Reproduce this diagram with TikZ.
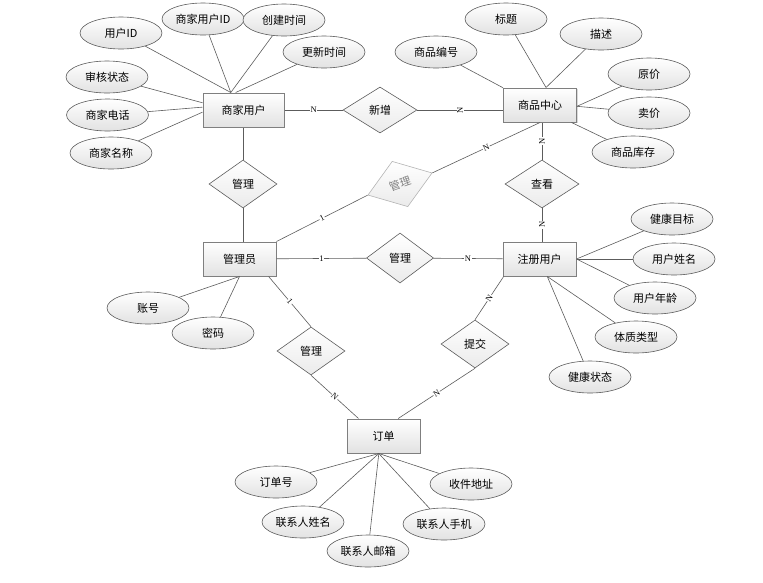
\documentclass[tikz,border=0pt]{standalone}
\usepackage{fontspec}
\newfontfamily\cjk{Noto Sans CJK SC}
\newfontfamily\cardfont{Liberation Serif}
\usetikzlibrary{shapes.geometric, shadows}

\definecolor{linegray}{HTML}{5C5C5C}
\definecolor{boxgray}{HTML}{7F7F7F}
\definecolor{shadegray}{HTML}{E2E2E2}
\definecolor{paleline}{HTML}{B4B4B4}

\tikzset{
	entity/.style = {draw = boxgray, line width = 1pt, top color = white, bottom color = shadegray,
		minimum width = 73pt, minimum height = 34pt, inner sep = 0pt,
		drop shadow = {shadow xshift = 1pt, shadow yshift = -1pt, opacity = 0.3}},
	attr/.style = {ellipse, draw = linegray, line width = 0.6pt, top color = white, bottom color = shadegray,
		minimum width = 82pt, minimum height = 32pt, inner sep = 0pt},
	rel/.style = {diamond, draw = linegray, line width = 0.6pt, top color = white, bottom color = white!92!black,
		minimum width = 68pt, minimum height = 48pt, inner sep = 0pt},
	card/.style = {fill = white, inner sep = 0.6pt, font = \cardfont\fontsize{8.5}{8.5}\selectfont},
	link/.style = {draw = linegray, line width = 0.6pt}
}

\begin{document}
\begin{tikzpicture}[x = 1pt, y = -1pt, every node/.style = {font = \cjk\fontsize{11}{13}\selectfont}]

	\useasboundingbox (0, 0) rectangle (763, 582);

	% Entities

	\node [entity, minimum width = 81pt] (merchant) at (243.5, 110) {商家用户};
	\node [entity] (goods) at (540, 105) {商品中心};
	\node [entity] (admin) at (239.5, 259) {管理员};
	\node [entity] (user) at (539.5, 259) {注册用户};
	\node [entity] (order) at (383.5, 436) {订单};

	% Relationships

	\node [rel, minimum width = 74pt, minimum height = 46pt] (add) at (380, 110) {新增};
	\node [rel] (manageA) at (243, 184) {管理};
	\node [rel, draw = paleline, text = gray, rotate = 19] (manageB) at (400, 184) {管理};
	\node [rel, minimum width = 67pt, minimum height = 50pt] (manageC) at (400, 258) {管理};
	\node [rel, minimum width = 74pt] (view) at (542, 184) {查看};
	\node [rel] (manageD) at (311, 351) {管理};
	\node [rel] (submit) at (475, 344) {提交};

	% Attributes of the merchant

	\node [attr] (uid) at (121, 33) {用户ID};
	\node [attr] (mid) at (203, 19) {商家用户ID};
	\node [attr] (ctime) at (284, 20) {创建时间};
	\node [attr] (utime) at (324, 52) {更新时间};
	\node [attr] (audit) at (107, 77) {审核状态};
	\node [attr] (mphone) at (107.5, 115) {商家电话};
	\node [attr] (mname) at (111, 153) {商家名称};

	% Attributes of the goods

	\node [attr] (gno) at (436, 52) {商品编号};
	\node [attr] (title) at (506, 19) {标题};
	\node [attr] (desc) at (601, 34) {描述};
	\node [attr] (oprice) at (649, 74) {原价};
	\node [attr] (sprice) at (649, 113) {卖价};
	\node [attr] (stock) at (633, 152) {商品库存};

	% Attributes of the registered user

	\node [attr] (goal) at (672, 219) {健康目标};
	\node [attr] (uname) at (674, 259) {用户姓名};
	\node [attr] (age) at (655, 298) {用户年龄};
	\node [attr] (physique) at (636, 337) {体质类型};
	\node [attr] (health) at (590, 377) {健康状态};

	% Attributes of the admin and the order

	\node [attr] (account) at (148, 308) {账号};
	\node [attr] (pwd) at (213, 333) {密码};

	\node [attr] (ono) at (276, 482) {订单号};
	\node [attr] (cname) at (303, 522) {联系人姓名};
	\node [attr] (cmail) at (368, 551) {联系人邮箱};
	\node [attr] (cmob) at (444, 524) {联系人手机};
	\node [attr] (addr) at (471, 484) {收件地址};

	% Attribute links

	\begin{scope}[link]

		\foreach \a/\p in {uid/126, mid/126, ctime/126, utime/114, audit/170, mphone/176, mname/183}
			\draw (\a) -- (merchant.\p);
		\foreach \a/\p in {gno/155, title/71, desc/71, oprice/358, sprice/358, stock/331}
			\draw (\a) -- (goods.\p);
		\foreach \a/\p in {goal/0, uname/0, age/0, physique/294, health/294}
			\draw (\a) -- (user.\p);
		\foreach \a in {account, pwd}
			\draw (\a) -- (admin.south);
		\foreach \a in {ono, cname, cmail, cmob, addr}
			\draw (\a) -- (order.255);

	\end{scope}

	% Relationship links with cardinalities

	\begin{scope}[link]

		\draw (merchant) -- node [card] {N} (add);
		\draw (add.east) -- node [card, rotate = 90] {N} (add.east -| goods.west);

		\draw (manageA) -- (manageA |- merchant.south);
		\draw (manageA) -- (manageA |- admin.north);

		\draw (admin.north east) -- node [card, sloped] {1} (manageB.west);
		\draw (manageB.east) -- node [card, sloped] {N} (goods.south);

		\draw (view) -- node [card, rotate = 90] {N} (view |- goods.south);
		\draw (view) -- node [card, rotate = 90] {N} (view |- user.north);

		\draw (admin) -- node [card] {1} (manageC);
		\draw (manageC) -- node [card] {N} (user);

		\draw (admin.329) -- node [card, sloped] {1} (manageD.north);
		\draw (manageD.south) -- node [card, sloped] {N} (order.145);

		\draw (user.206) -- node [card, sloped] {N} (submit.north);
		\draw (submit.south) -- node [card, sloped] {N} (order.50);

	\end{scope}

\end{tikzpicture}
\end{document}
